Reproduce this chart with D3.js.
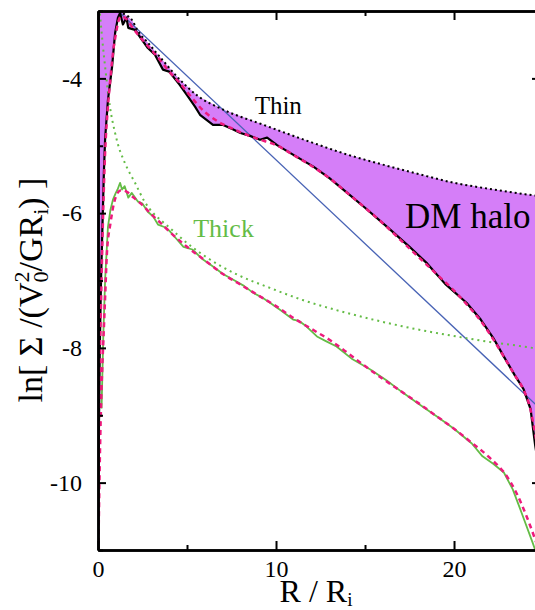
<!DOCTYPE html>
<html>
<head>
<meta charset="utf-8">
<script src="https://cdn.jsdelivr.net/npm/d3@7/dist/d3.min.js"></script>
<style>
  body { margin: 0; background: #fff; }
  svg { display: block; font-family: "Liberation Serif", "Times New Roman", serif; }
</style>
</head>
<body>
<svg id="svg" width="535" height="610"></svg>
<script>
// thin disk, measured profile
var thinR  = [0, 0.04, 0.1, 0.17, 0.25, 0.33, 0.4, 0.56, 0.79, 0.96, 1.12, 1.24, 1.4, 1.6, 1.7, 2.08, 2.47, 2.8, 3.2, 3.65, 4.0, 4.6, 5.0, 5.45, 5.73, 6.46, 7.0, 7.6, 8.0, 8.5, 9.1, 9.5, 10.06, 11, 12.1, 13, 14, 15, 16.4, 17.5, 18.5, 19.5, 20.7, 21.5, 22.2, 22.8, 23.4, 23.9, 24.3, 24.55, 24.83];
var thinLn = [-11, -9.5, -8, -7, -6.2, -5.4, -4.9, -4.32, -3.83, -3.33, -3.1, -3.03, -3.2, -3.1, -3.25, -3.28, -3.43, -3.55, -3.65, -3.87, -3.9, -4.1, -4.25, -4.42, -4.54, -4.69, -4.69, -4.76, -4.81, -4.85, -4.91, -4.88, -4.99, -5.14, -5.31, -5.48, -5.7, -5.92, -6.24, -6.5, -6.75, -7.05, -7.33, -7.58, -7.85, -8.13, -8.4, -8.61, -8.91, -9.43, -9.9];

// thin disk, fit (dashed)
var thinFitR  = [0, 0.05, 0.1, 0.2, 0.3, 0.4, 0.55, 0.7, 0.85, 1.0, 1.15, 1.3, 1.6, 2.0, 2.5, 3, 3.5, 4, 4.5, 5, 5.5, 6, 6.5, 7, 7.5, 8, 9, 10, 11, 12, 13, 14, 15, 16, 17, 18, 19, 20, 20.7, 21.5, 22.2, 22.8, 23.4, 23.9, 24.3, 24.6, 24.83];
var thinFitLn = [-11.3, -9.8, -8.4, -7.0, -5.9, -5.1, -4.45, -4.0, -3.6, -3.35, -3.15, -3.08, -3.12, -3.27, -3.43, -3.58, -3.73, -3.9, -4.04, -4.2, -4.36, -4.5, -4.6, -4.68, -4.74, -4.8, -4.9, -4.99, -5.14, -5.3, -5.48, -5.7, -5.92, -6.15, -6.4, -6.65, -6.9, -7.15, -7.35, -7.6, -7.87, -8.13, -8.4, -8.62, -8.92, -9.35, -9.75];

// thin disk + halo model (dotted)
var thinModR  = [0, 0.5, 1.0, 1.4, 1.9, 2.25, 2.8, 3.6, 4.6, 5.6, 7.0, 9.3, 12, 14, 16, 18, 20, 22, 24.83];
var thinModLn = [-2.0, -2.55, -2.9, -3.03, -3.13, -3.3, -3.47, -3.72, -4.02, -4.26, -4.46, -4.69, -4.95, -5.13, -5.28, -5.42, -5.55, -5.64, -5.75];

// thick disk, measured profile
var thickR  = [0.2, 0.3, 0.4, 0.56, 0.7, 0.84, 1.0, 1.1, 1.24, 1.35, 1.5, 1.7, 1.9, 2.25, 2.5, 2.8, 3.1, 3.37, 3.76, 4.04, 4.4, 4.8, 5.3, 5.9, 6.5, 7.0, 7.6, 8.2, 8.7, 9.2, 9.66, 10.3, 10.96, 11.3, 11.7, 12.3, 12.8, 13.4, 14.3, 15.3, 16.2, 17.1, 18, 19.0, 20, 21, 21.6, 22.2, 22.8, 23.3, 23.8, 24.4, 24.83];
var thickLn = [-8.9, -7.8, -6.99, -6.2, -5.95, -5.8, -5.7, -5.65, -5.55, -5.65, -5.6, -5.77, -5.7, -5.83, -5.86, -5.98, -6.05, -6.17, -6.21, -6.27, -6.38, -6.5, -6.54, -6.69, -6.8, -6.9, -6.99, -7.08, -7.18, -7.25, -7.33, -7.45, -7.58, -7.6, -7.68, -7.83, -7.9, -7.98, -8.17, -8.32, -8.48, -8.66, -8.83, -9.01, -9.2, -9.42, -9.61, -9.72, -9.85, -10.1, -10.45, -10.88, -11.2];

// thick disk, fit (dashed)
var thickFitR  = [0, 0.05, 0.1, 0.2, 0.3, 0.4, 0.5, 0.7, 0.9, 1.1, 1.3, 1.6, 2.0, 2.5, 3.0, 3.5, 4.0, 5, 6, 7, 8, 9, 10, 11, 12, 13, 14, 15, 16, 17, 18, 19, 20, 21, 22, 23, 23.5, 24, 24.5, 24.83];
var thickFitLn = [-11.3, -10.5, -9.7, -8.6, -7.9, -7.25, -6.6, -6.15, -5.85, -5.7, -5.66, -5.68, -5.77, -5.88, -6.02, -6.14, -6.27, -6.5, -6.7, -6.9, -7.06, -7.22, -7.38, -7.56, -7.72, -7.88, -8.07, -8.27, -8.46, -8.64, -8.82, -9.01, -9.2, -9.41, -9.63, -9.92, -10.15, -10.45, -10.8, -11.05];

// thick disk model (dotted)
var thickModR  = [0.08, 0.25, 0.4, 0.67, 0.96, 1.1, 1.5, 2.08, 2.64, 3.1, 3.6, 4.04, 4.8, 5.9, 7.8, 9.66, 11.5, 13.4, 15.3, 17.1, 19.9, 22.2, 24.4, 24.83];
var thickModLn = [-2.95, -3.45, -3.83, -4.42, -4.81, -4.96, -5.25, -5.55, -5.84, -6.0, -6.12, -6.22, -6.4, -6.62, -6.91, -7.11, -7.29, -7.44, -7.57, -7.68, -7.82, -7.92, -8.0, -8.02];

// exponential disk (straight line)
var expR  = [0, 24.83];
var expLn = [-2.72, -8.9];

var xTicks = [0, 10, 20];
var xMinor = [5, 15];
var yTicks = [-10, -8, -6, -4];
var yMinor = [-11, -9, -7, -5, -3];

var purple = '#d57ef8';
var green = '#64bc46';
var pink = '#ee1a7c';
var blue = '#4863b5';
var serif = 'Liberation Serif, Times New Roman, serif';

var svg = d3.select('#svg');
var margin = { top: 11, right: -5, bottom: 60, left: 98 };
var width = 535, height = 610;
var innerW = width - margin.left - margin.right;
var innerH = height - margin.top - margin.bottom;

var x = d3.scaleLinear().domain([0, 24.83]).range([0, innerW]);
var y = d3.scaleLinear().domain([-11, -3]).range([innerH, 0]);

function pts(rs, ls) {
    return rs.map(function(r, i) { return [r, ls[i]]; });
}

svg.append('defs').append('clipPath').attr('id', 'plotclip')
    .append('rect').attr('x', 0).attr('y', 0).attr('width', innerW).attr('height', innerH);

var g = svg.append('g').attr('transform', 'translate(' + margin.left + ',' + margin.top + ')');

function styleAxis(sel) {
    sel.attr('font-family', serif).attr('font-size', 24);
    sel.select('.domain').attr('stroke', '#000').attr('stroke-width', 2.5);
    sel.selectAll('.tick line').attr('stroke', '#000').attr('stroke-width', 2);
    sel.selectAll('.tick text').attr('fill', '#000')
        .attr('font-family', serif)
        .style('font-size', '24px')
        .style('font-family', serif);
}
var fmt = function(d) { return String(d); };

// right axis goes under the fill
g.append('g').attr('transform', 'translate(' + innerW + ',0)')
    .call(d3.axisRight(y).tickValues(yTicks).tickSize(-8).tickSizeOuter(0).tickFormat(''))
    .call(styleAxis);

var plot = g.append('g').attr('clip-path', 'url(#plotclip)');

var line = d3.line().x(function(d) { return x(d[0]); }).y(function(d) { return y(d[1]); });
var smooth = d3.line().curve(d3.curveMonotoneX)
    .x(function(d) { return x(d[0]); }).y(function(d) { return y(d[1]); });

// DM halo region: between the thin profile and the thin+halo model
var thinPts = pts(thinR, thinLn);
var modPts = pts(thinModR, thinModLn);
var ring = thinPts.concat(modPts.slice().reverse());
plot.append('path')
    .attr('d', line(ring) + 'Z')
    .attr('fill', purple)
    .attr('stroke', 'none');

plot.append('path')
    .attr('d', line(pts(expR, expLn)))
    .attr('fill', 'none').attr('stroke', blue).attr('stroke-width', 1.3);

plot.append('path')
    .attr('d', smooth(pts(thickModR, thickModLn)))
    .attr('fill', 'none').attr('stroke', green).attr('stroke-width', 2)
    .attr('stroke-dasharray', '2,4');

plot.append('path')
    .attr('d', line(pts(thickR, thickLn)))
    .attr('fill', 'none').attr('stroke', green).attr('stroke-width', 1.8)
    .attr('stroke-linejoin', 'round');

plot.append('path')
    .attr('d', smooth(pts(thickFitR, thickFitLn)))
    .attr('fill', 'none').attr('stroke', pink).attr('stroke-width', 2.5)
    .attr('stroke-dasharray', '5,4');

plot.append('path')
    .attr('d', line(thinPts))
    .attr('fill', 'none').attr('stroke', '#000').attr('stroke-width', 2.2)
    .attr('stroke-linejoin', 'round');

plot.append('path')
    .attr('d', smooth(pts(thinFitR, thinFitLn)))
    .attr('fill', 'none').attr('stroke', pink).attr('stroke-width', 2.5)
    .attr('stroke-dasharray', '5,4');

plot.append('path')
    .attr('d', smooth(modPts))
    .attr('fill', 'none').attr('stroke', '#000').attr('stroke-width', 2)
    .attr('stroke-dasharray', '2,3');

// axes, ticks pointing inwards
g.append('g').attr('transform', 'translate(0,' + innerH + ')')
    .call(d3.axisBottom(x).tickValues(xTicks).tickSize(-9).tickSizeOuter(0).tickPadding(10).tickFormat(fmt))
    .call(styleAxis);
g.append('g').attr('transform', 'translate(0,' + innerH + ')')
    .call(d3.axisBottom(x).tickValues(xMinor).tickSize(-5).tickSizeOuter(0).tickFormat(''))
    .call(styleAxis);
g.append('g')
    .call(d3.axisTop(x).tickValues(xTicks).tickSize(-9).tickSizeOuter(0).tickFormat(''))
    .call(styleAxis);
g.append('g')
    .call(d3.axisTop(x).tickValues(xMinor).tickSize(-5).tickSizeOuter(0).tickFormat(''))
    .call(styleAxis);

g.append('g')
    .call(d3.axisLeft(y).tickValues(yTicks).tickSize(-8).tickSizeOuter(0).tickPadding(16).tickFormat(fmt))
    .call(styleAxis);
g.append('g')
    .call(d3.axisLeft(y).tickValues(yMinor).tickSize(-5).tickSizeOuter(0).tickFormat(''))
    .call(styleAxis);

// labels inside the plot
g.append('text').attr('x', x(8.8)).attr('y', y(-4.53))
    .style('font-size', '25px').attr('fill', '#000').text('Thin');
g.append('text').attr('x', x(5.35)).attr('y', y(-6.36))
    .style('font-size', '26px').attr('fill', green).text('Thick');
g.append('text').attr('x', x(17.25)).attr('y', y(-6.22))
    .style('font-size', '35px').attr('fill', '#000').text('DM halo');

// axis titles
var xt = svg.append('text')
    .attr('x', 316).attr('y', 602)
    .attr('text-anchor', 'middle')
    .style('font-size', '32px');
xt.append('tspan').text('R / R');
xt.append('tspan').attr('dy', 4).style('font-size', '19px').text('i');

var yt = svg.append('text')
    .attr('transform', 'translate(42,290) rotate(-90)')
    .attr('text-anchor', 'middle')
    .style('font-size', '34px');
yt.append('tspan').text('ln[ \u03A3 /(V');
yt.append('tspan').attr('dy', 6).style('font-size', '22px').text('0');
yt.append('tspan').attr('dx', -11).attr('dy', -19).style('font-size', '22px').text('2');
yt.append('tspan').attr('dy', 13).text('/GR');
yt.append('tspan').attr('dy', 6).style('font-size', '22px').text('i');
yt.append('tspan').attr('dy', -6).text(') ]');
</script>
</body>
</html>
